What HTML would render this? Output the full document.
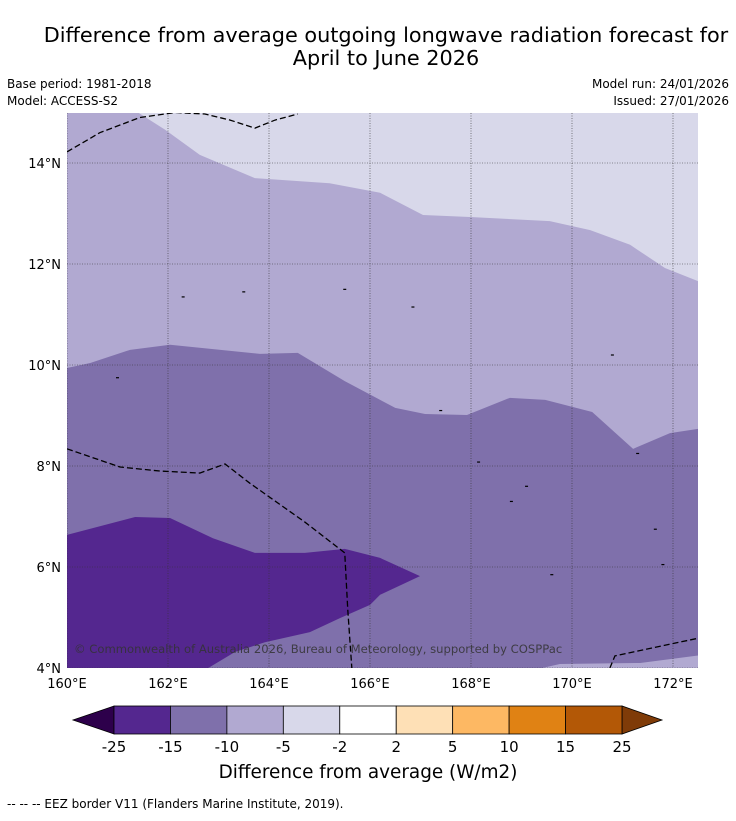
<!DOCTYPE html>
<html><head><meta charset="utf-8"><style>
body{margin:0;background:#fff;font-family:"Liberation Sans",sans-serif;}
svg text{font-family:"DejaVu Sans","Liberation Sans",sans-serif;}
</style></head><body>
<svg id="chart" width="736" height="816" xmlns="http://www.w3.org/2000/svg">
<rect width="736" height="816" fill="#fff"/>
<text x="386" y="42" font-size="20.8" text-anchor="middle">Difference from average outgoing longwave radiation forecast for</text>
<text x="386" y="65" font-size="20.8" text-anchor="middle">April to June 2026</text>
<text x="7" y="88" font-size="12">Base period: 1981-2018</text>
<text x="7" y="105" font-size="12">Model: ACCESS-S2</text>
<text x="729" y="88" font-size="12" text-anchor="end">Model run: 24/01/2026</text>
<text x="729" y="105" font-size="12" text-anchor="end">Issued: 27/01/2026</text>
<defs><clipPath id="mapclip"><rect x="67" y="113" width="631" height="555"/></clipPath></defs>
<g id="map" clip-path="url(#mapclip)"></g>
<g id="axes"></g>
<text x="74" y="653" font-size="11.6" fill="#333" opacity="0.85">© Commonwealth of Australia 2026, Bureau of Meteorology, supported by COSPPac</text>
<g id="cbar"></g>
<text x="368" y="778" font-size="18.4" text-anchor="middle">Difference from average (W/m2)</text>
<text x="7" y="808" font-size="12">--  --  -- EEZ border V11 (Flanders Marine Institute, 2019).</text>
</svg>
<script>
const lonTicks=[160,162,164,166,168,170,172];
const latTicks=[4,6,8,10,12,14];
const cbarBounds=[-25,-15,-10,-5,-2,2,5,10,15,25];
const cbarColors=["#54278f","#7f70ab","#b1a9d1","#d8d8ea","#ffffff","#fee0b6","#fdb863","#e08214","#b35806"];
const lightLon=[161.25,161.94,162.63,163.72,165.2,166.2,167.05,167.98,169.56,170.36,171.15,171.84,172.6];
const lightLat=[15.1,14.66,14.16,13.7,13.6,13.41,12.97,12.93,12.85,12.67,12.38,11.92,11.62];
const midLon=[160,160.46,161.25,162.04,163.82,164.57,165.5,166.5,167.09,167.92,168.77,169.47,170.4,171.21,171.94,172.6];
const midLat=[9.94,10.04,10.3,10.4,10.22,10.24,9.68,9.15,9.03,9.01,9.35,9.31,9.07,8.34,8.65,8.75];
const darkLon=[159.9,161.35,162.04,162.89,163.72,164.71,165.5,166.2,166.99,166.2,166.0,165.41,164.81,163.92,163.33,162.63,159.9];
const darkLat=[6.61,6.99,6.97,6.57,6.28,6.28,6.36,6.18,5.82,5.45,5.25,4.99,4.71,4.51,4.32,3.9,3.9];
const botLon=[168.97,169.76,171.35,172.6];
const botLat=[3.9,4.08,4.10,4.26];
const eezTopLon=[160,160.65,161.44,162.14,162.73,163.23,163.72,164.12,164.57];
const eezTopLat=[14.22,14.6,14.9,15.0,14.97,14.85,14.69,14.85,14.97];
const eezMidLon=[160,161.05,161.84,162.63,163.13,163.62,164.71,165.5,165.56,165.64];
const eezMidLat=[8.34,7.98,7.9,7.86,8.04,7.66,6.89,6.28,5.15,4.0];
const eezBrLon=[170.75,170.85,172.5];
const eezBrLat=[4.0,4.24,4.59];
const islandLon=[162.3,163.5,165.5,166.85,167.4,168.15,169.1,169.6,170.8,171.3,171.65,171.8,168.8,161.0];
const islandLat=[11.35,11.45,11.5,11.15,9.1,8.08,7.6,5.85,10.2,8.25,6.75,6.05,7.3,9.75];
const X=l=>67+(l-160)*50.5, Y=l=>668-(l-4)*50.5;
const NS="http://www.w3.org/2000/svg";
function mk(t,a,p){const e=document.createElementNS(NS,t);for(const k in a)e.setAttribute(k,a[k]);p.appendChild(e);return e;}
const map=document.getElementById('map');
const pts=(lo,la)=>lo.map((v,i)=>X(v)+','+Y(la[i])).join(' ');
let e;
e=mk('rect',{x:67,y:113,width:631,height:555,fill:cbarColors[2]},map);

e=mk('polygon',{points:pts(lightLon,lightLat)+' '+X(172.6)+','+Y(15.2)+' '+X(161.25)+','+Y(15.2),fill:cbarColors[3]},map);

e=mk('polygon',{points:pts(midLon,midLat)+' '+X(172.6)+','+Y(3.9)+' '+X(160)+','+Y(3.9),fill:cbarColors[1]},map);

e=mk('polygon',{points:pts(botLon,botLat)+' '+X(172.6)+','+Y(3.9),fill:cbarColors[2]},map);

e=mk('polygon',{points:pts(darkLon,darkLat),fill:cbarColors[0]},map);

lonTicks.forEach(l=>{const g=mk('line',{x1:X(l),x2:X(l),y1:113,y2:668,stroke:'#333','stroke-width':0.6,'stroke-dasharray':'1,1.5'},map);
});
latTicks.forEach(l=>{const g=mk('line',{x1:67,x2:698,y1:Y(l),y2:Y(l),stroke:'#333','stroke-width':0.6,'stroke-dasharray':'1,1.5'},map);
});
islandLon.forEach((l,i)=>{const c=mk('rect',{x:X(l)-1.5,y:Y(islandLat[i])-0.5,width:3,height:1.2,fill:'#000'},map);
});
[[eezTopLon,eezTopLat],[eezMidLon,eezMidLat],[eezBrLon,eezBrLat]].forEach(([a,b])=>{
const p=mk('polyline',{points:pts(a,b),fill:'none',stroke:'#000','stroke-width':1.3,'stroke-dasharray':'6,3'},map);
});
const ax=document.getElementById('axes');
lonTicks.forEach(l=>{const t=mk('text',{x:X(l),y:688,'font-size':13,'text-anchor':'middle'},ax);t.textContent=l+'°E';
});
latTicks.forEach(l=>{const t=mk('text',{x:61,y:Y(l)+5,'font-size':13,'text-anchor':'end'},ax);t.textContent=l+'°N';
});
const cb=document.getElementById('cbar');
const x0=114,x1=622,w=(x1-x0)/cbarColors.length,cy=706,ch=28;
e=mk('polygon',{points:`${x0},${cy} ${x0},${cy+ch} 73,${cy+ch/2}`,fill:'#2d004b',stroke:'#000','stroke-width':0.8},cb);

e=mk('polygon',{points:`${x1},${cy} ${x1},${cy+ch} 662,${cy+ch/2}`,fill:'#7f3b08',stroke:'#000','stroke-width':0.8},cb);

cbarColors.forEach((c,i)=>{const r=mk('rect',{x:x0+i*w,y:cy,width:w,height:ch,fill:c,stroke:'#000','stroke-width':0.8},cb);
});
cbarBounds.forEach((v,i)=>{const t=mk('text',{x:x0+i*w,y:752,'font-size':15,'text-anchor':'middle'},cb);t.textContent=v;
});
</script>
</body></html>
